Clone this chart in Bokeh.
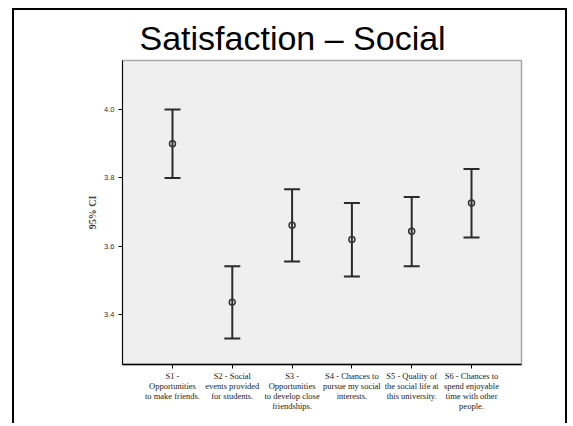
from bokeh.plotting import figure
from bokeh.models import ColumnDataSource, Whisker, TeeHead, FixedTicker, NumeralTickFormatter
from bokeh.embed import file_html
from bokeh.resources import INLINE

# Social satisfaction items: mean with 95% confidence interval
items = [
    "S1 -\nOpportunities\nto make friends.",
    "S2 - Social\nevents provided\nfor students.",
    "S3 -\nOpportunities\nto develop close\nfriendships.",
    "S4 - Chances to\npursue my social\ninterests.",
    "S5 - Quality of\nthe social life at\nthis university.",
    "S6 - Chances to\nspend enjoyable\ntime with other\npeople.",
]
means = [3.900, 3.437, 3.662, 3.620, 3.644, 3.727]
ci_lower = [3.800, 3.331, 3.556, 3.512, 3.542, 3.626]
ci_upper = [4.000, 3.542, 3.767, 3.727, 3.744, 3.826]
y_ticks = [3.4, 3.6, 3.8, 4.0]

xs = list(range(1, len(items) + 1))
src = ColumnDataSource(dict(x=xs, mean=means, lower=ci_lower, upper=ci_upper))

p = figure(width=555, height=415, output_backend="svg", toolbar_location=None,
           x_range=(0.164, 6.836), y_range=(3.255, 4.143),
           min_border_left=108, min_border_right=48, min_border_top=50, min_border_bottom=61)

# slide-style frame around the chart (open at the bottom)
p.margin = (8, 0, 0, 12)
p.styles = {"border-top": "2.5px solid black",
            "border-left": "2.5px solid black",
            "border-right": "2px solid black"}

p.background_fill_color = "#efefef"
p.border_fill_color = "white"
p.outline_line_color = "#a8a8a8"
p.outline_line_width = 1.5
p.grid.visible = False

# title
p.title.text = "Satisfaction \u2013 Social"
p.title.text_font = "Liberation Sans"
p.title.text_font_style = "normal"
p.title.text_font_size = "34px"
p.title.text_color = "black"
p.title.align = "left"
p.title.offset = 17
p.title.standoff = 8

# error bars
wh = Whisker(source=src, base="x", lower="lower", upper="upper", dimension="height",
             line_color="#2b2b2b", line_width=2,
             upper_head=TeeHead(size=16, line_color="#2b2b2b", line_width=2),
             lower_head=TeeHead(size=16, line_color="#2b2b2b", line_width=2))
p.add_layout(wh)
p.scatter("x", "mean", source=src, marker="circle", size=6,
          fill_color=None, line_color="#333333", line_width=1.5)

# x axis
p.xaxis.ticker = FixedTicker(ticks=xs)
p.xaxis.major_label_overrides = {x: lab for x, lab in zip(xs, items)}
p.xaxis.major_label_text_font = "Liberation Serif"
p.xaxis.major_label_text_font_size = "8.5px"
p.xaxis.major_label_text_color = "#222222"
p.xaxis.major_label_text_line_height = 1.02
p.xaxis.major_label_standoff = 2
p.xaxis.major_tick_out = 4
p.xaxis.major_tick_in = 0
p.xaxis.minor_tick_line_color = None
p.xaxis.axis_line_color = "black"
p.xaxis.axis_line_width = 1.5

# y axis
p.yaxis.ticker = FixedTicker(ticks=y_ticks)
p.yaxis.formatter = NumeralTickFormatter(format="0.0")
p.yaxis.major_label_text_font = "Liberation Sans"
p.yaxis.major_label_text_font_size = "7.5px"
p.yaxis.major_label_text_color = "#333333"
p.yaxis.major_label_standoff = 4
p.yaxis.major_tick_out = 4
p.yaxis.major_tick_in = 0
p.yaxis.minor_tick_line_color = None
p.yaxis.axis_line_color = "black"
p.yaxis.axis_line_width = 1
p.yaxis.axis_label = "95% CI"
p.yaxis.axis_label_text_font = "Liberation Serif"
p.yaxis.axis_label_text_font_style = "bold"
p.yaxis.axis_label_text_font_size = "10px"
p.yaxis.axis_label_standoff = 3

open("out.html", "w").write(file_html(p, INLINE))
